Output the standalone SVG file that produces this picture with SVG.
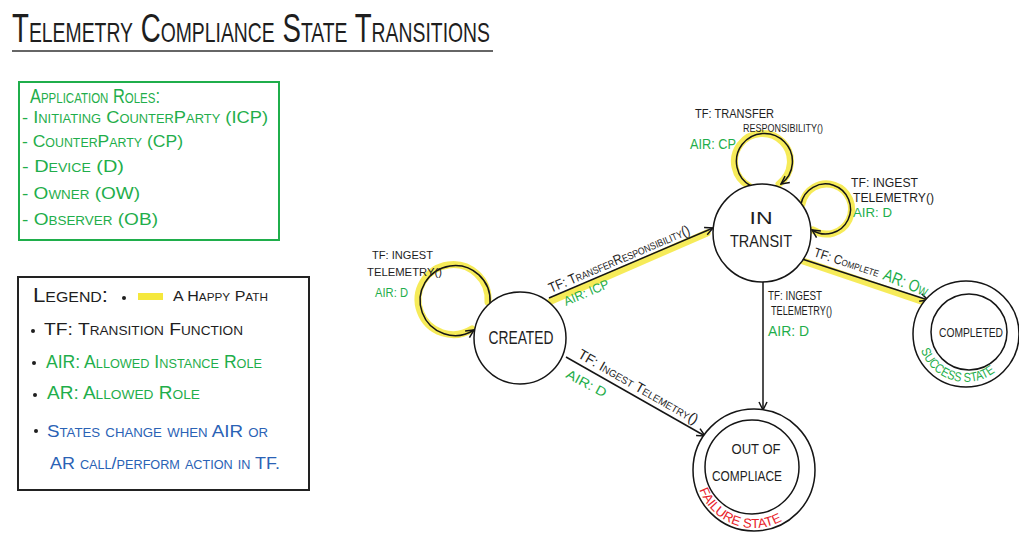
<svg xmlns="http://www.w3.org/2000/svg" width="1019" height="533" viewBox="0 0 1019 533">
  <style>
    .t { font-family: "Liberation Sans", Arial, sans-serif; fill: #1e1e1e; }
    .sc { font-variant: small-caps; }
    .g { fill: #1fae4b; }
    .b { fill: #2a62b5; }
    .r { fill: #e8232b; }
    .edge { stroke: #151515; stroke-width: 1.5; fill: none; }
    .hl { stroke: #f5e83c; stroke-width: 7; fill: none; stroke-linecap: round; opacity: 0.85; }
    .node { fill: #ffffff; stroke: #151515; stroke-width: 1.5; }
    .ring { fill: none; stroke: #151515; stroke-width: 1.5; }
    .dot { fill: #1e1e1e; }
  </style>
  <defs>
    <marker id="arr" viewBox="0 0 10 10" refX="9" refY="5" markerWidth="10" markerHeight="10" markerUnits="userSpaceOnUse" orient="auto">
      <path d="M1,1 L9,5 L1,9" fill="none" stroke="#151515" stroke-width="1.5"/>
    </marker>
    <path id="failArc" d="M 699.5 489.8 A 58 58 0 0 0 787.3 517.5"/>
    <path id="succArc" d="M 920.9 350.4 A 48 48 0 0 0 1001.7 366.1"/>
  </defs>
  <rect width="1019" height="533" fill="#ffffff"/>

  <!-- heading -->
  <g id="title">
    <text class="t sc" x="12" y="42" font-size="40" textLength="478" lengthAdjust="spacingAndGlyphs">Telemetry Compliance State Transitions</text>
    <line x1="12" y1="51" x2="493" y2="51" stroke="#333" stroke-width="1.3"/>
  </g>

  <!-- application roles panel -->
  <g id="roles">
    <rect x="19" y="82" width="260" height="158" fill="none" stroke="#1fae4b" stroke-width="2"/>
    <text class="t sc g" x="30" y="103" font-size="20" textLength="130" lengthAdjust="spacingAndGlyphs">Application Roles:</text>
    <text class="t sc g" x="22" y="123" font-size="17" textLength="246" lengthAdjust="spacingAndGlyphs">- Initiating CounterParty (ICP)</text>
    <text class="t sc g" x="22" y="147" font-size="17" textLength="161" lengthAdjust="spacingAndGlyphs">- CounterParty (CP)</text>
    <text class="t sc g" x="22" y="172" font-size="17" textLength="102" lengthAdjust="spacingAndGlyphs">- Device (D)</text>
    <text class="t sc g" x="22" y="199" font-size="17" textLength="118" lengthAdjust="spacingAndGlyphs">- Owner (OW)</text>
    <text class="t sc g" x="22" y="225" font-size="17" textLength="136" lengthAdjust="spacingAndGlyphs">- Observer (OB)</text>
  </g>

  <!-- legend panel -->
  <g id="legend">
    <rect x="18" y="277" width="291" height="213" fill="none" stroke="#222" stroke-width="2"/>
    <text class="t sc" x="33" y="302" font-size="21" textLength="75" lengthAdjust="spacingAndGlyphs">Legend:</text>
    <circle class="dot" cx="124" cy="298" r="2"/>
    <rect x="138" y="293" width="25" height="7" fill="#f5e83c"/>
    <text class="t sc" x="173" y="301" font-size="15" textLength="95" lengthAdjust="spacingAndGlyphs">A Happy Path</text>
    <circle class="dot" cx="33" cy="331" r="2"/>
    <text class="t sc" x="44" y="335" font-size="17" textLength="199" lengthAdjust="spacingAndGlyphs">TF: Transition Function</text>
    <circle class="dot" cx="34" cy="363" r="2"/>
    <text class="t sc g" x="46" y="368" font-size="18" textLength="216" lengthAdjust="spacingAndGlyphs">AIR: Allowed Instance Role</text>
    <circle class="dot" cx="35" cy="395" r="2"/>
    <text class="t sc g" x="47" y="399" font-size="18" textLength="153" lengthAdjust="spacingAndGlyphs">AR: Allowed Role</text>
    <circle class="dot" cx="36" cy="431" r="2"/>
    <text class="t sc b" x="47" y="437" font-size="17" textLength="221" lengthAdjust="spacingAndGlyphs">States change when AIR or</text>
    <text class="t sc b" x="50" y="469" font-size="17" textLength="230" lengthAdjust="spacingAndGlyphs">AR call/perform action in TF.</text>
  </g>

  <!-- transitions -->
  <g id="connectors">
    <!-- happy path highlights -->
    <path class="hl" d="M 490 303 A 35 35 0 1 0 474 330" transform="translate(-2,-1)"/>
    <line class="hl" x1="551" y1="301" x2="707" y2="233"/>
    <path class="hl" d="M 751 186 A 28 28 0 1 1 781 184" transform="translate(-2,0)"/>
    <path class="hl" d="M 801 204 A 25 25 0 1 1 812 230" transform="translate(1,0)"/>
    <line class="hl" x1="803" y1="261" x2="924" y2="302"/>

    <!-- Created self loop -->
    <path class="edge" d="M 490 303 A 35 35 0 1 0 474 330" marker-end="url(#arr)"/>
    <!-- Created -> In Transit -->
    <line class="edge" x1="549" y1="298" x2="713" y2="228" marker-end="url(#arr)"/>
    <!-- Created -> Out of Compliance -->
    <line class="edge" x1="566" y1="357" x2="705" y2="436" marker-end="url(#arr)"/>
    <!-- In Transit self loops -->
    <path class="edge" d="M 751 186 A 28 28 0 1 1 781 184" marker-end="url(#arr)"/>
    <path class="edge" d="M 801 204 A 25 25 0 1 1 812 230" marker-end="url(#arr)"/>
    <!-- In Transit -> Out of Compliance -->
    <line class="edge" x1="763" y1="282" x2="763" y2="410" marker-end="url(#arr)"/>
    <!-- In Transit -> Completed -->
    <line class="edge" x1="802" y1="259" x2="928" y2="300" marker-end="url(#arr)"/>

    <!-- labels -->
    <text class="t" x="372" y="259" font-size="11" textLength="61" lengthAdjust="spacingAndGlyphs">TF: INGEST</text>
    <text class="t" x="367" y="276" font-size="11" textLength="75" lengthAdjust="spacingAndGlyphs">TELEMETRY()</text>
    <text class="t g" x="375" y="297" font-size="13" textLength="33" lengthAdjust="spacingAndGlyphs">AIR: D</text>

    <text class="t sc" x="551" y="293" font-size="14" textLength="152" lengthAdjust="spacingAndGlyphs" transform="rotate(-23 551 293)">TF: TransferResponsibility()</text>
    <text class="t g" x="566" y="306" font-size="13" textLength="48" lengthAdjust="spacingAndGlyphs" transform="rotate(-23 566 306)">AIR: ICP</text>

    <text class="t sc" x="577" y="357" font-size="14" textLength="136" lengthAdjust="spacingAndGlyphs" transform="rotate(29.8 577 357)">TF: Ingest Telemetry()</text>
    <text class="t g" x="565" y="377" font-size="13" textLength="44" lengthAdjust="spacingAndGlyphs" transform="rotate(28 565 377)">AIR: D</text>

    <text class="t" x="695" y="118" font-size="13" textLength="79" lengthAdjust="spacingAndGlyphs">TF: TRANSFER</text>
    <text class="t" x="743" y="132" font-size="10" textLength="80" lengthAdjust="spacingAndGlyphs">RESPONSIBILITY()</text>
    <text class="t g" x="690" y="149" font-size="14" textLength="46" lengthAdjust="spacingAndGlyphs">AIR: CP</text>

    <text class="t" x="851" y="187" font-size="12" textLength="67" lengthAdjust="spacingAndGlyphs">TF: INGEST</text>
    <text class="t" x="853" y="202" font-size="12" textLength="81" lengthAdjust="spacingAndGlyphs">TELEMETRY()</text>
    <text class="t g" x="853" y="217" font-size="13" textLength="39" lengthAdjust="spacingAndGlyphs">AIR: D</text>

    <text class="t" x="768" y="300" font-size="12" textLength="54" lengthAdjust="spacingAndGlyphs">TF: INGEST</text>
    <text class="t" x="771" y="315" font-size="12" textLength="61" lengthAdjust="spacingAndGlyphs">TELEMETRY()</text>
    <text class="t g" x="768" y="336" font-size="14" textLength="41" lengthAdjust="spacingAndGlyphs">AIR: D</text>

    <text class="t sc" x="813" y="256" font-size="13" textLength="68" lengthAdjust="spacingAndGlyphs" transform="rotate(18 813 256)">TF: Complete</text>
    <text class="t sc g" x="882" y="279" font-size="17" textLength="47" lengthAdjust="spacingAndGlyphs" transform="rotate(22 882 279)">AR: Ow</text>
  </g>

  <!-- states -->
  <g id="created">
    <circle class="node" cx="520" cy="338" r="46"/>
    <text class="t" x="521" y="344" font-size="18" text-anchor="middle" textLength="65" lengthAdjust="spacingAndGlyphs">CREATED</text>
  </g>

  <g id="in-transit">
    <circle class="node" cx="762" cy="233" r="49"/>
    <text class="t" x="761" y="224" font-size="16" text-anchor="middle" textLength="23" lengthAdjust="spacingAndGlyphs">IN</text>
    <text class="t" x="761" y="247" font-size="17" text-anchor="middle" textLength="62" lengthAdjust="spacingAndGlyphs">TRANSIT</text>
  </g>

  <g id="completed">
    <circle class="node" cx="966" cy="334" r="53"/>
    <circle class="ring" cx="969" cy="332" r="38"/>
    <text class="t" x="971" y="337" font-size="13" text-anchor="middle" textLength="64" lengthAdjust="spacingAndGlyphs">COMPLETED</text>
    <text class="t g" font-size="13"><textPath href="#succArc" textLength="90" lengthAdjust="spacingAndGlyphs">SUCCESS STATE</textPath></text>
  </g>

  <g id="out-of-compliance">
    <circle class="node" cx="754" cy="470" r="61"/>
    <circle class="ring" cx="752" cy="467" r="47"/>
    <text class="t" x="756" y="454" font-size="14" text-anchor="middle" textLength="49" lengthAdjust="spacingAndGlyphs">OUT OF</text>
    <text class="t" x="747" y="481" font-size="14" text-anchor="middle" textLength="70" lengthAdjust="spacingAndGlyphs">COMPLIACE</text>
    <text class="t r" font-size="13"><textPath href="#failArc" textLength="100" lengthAdjust="spacingAndGlyphs">FAILURE STATE</textPath></text>
  </g>
</svg>
